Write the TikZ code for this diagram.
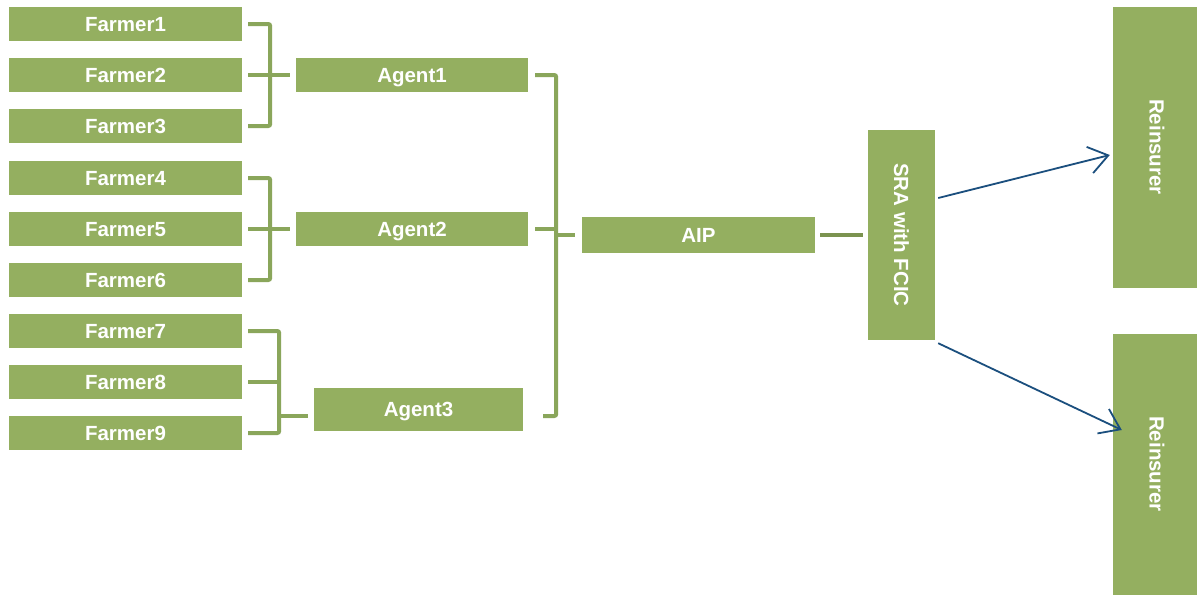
\documentclass[tikz,border=0pt]{standalone}
\usepackage{fontspec}
\setmainfont{Liberation Sans}
\usetikzlibrary{arrows.meta}
\definecolor{boxgreen}{HTML}{94AF60}
\definecolor{brgreen}{HTML}{8AA65B}
\definecolor{lnkgreen}{HTML}{7B9350}
\definecolor{arrblue}{HTML}{1B4F7E}
\tikzset{
  gbox/.style={fill=boxgreen, draw=none, inner sep=0pt, text=white,
    font=\fontsize{20.5}{24}\selectfont\bfseries, text height=14.8pt, text depth=0pt},
  farmer/.style={gbox, minimum width=233pt, minimum height=34pt},
  agent/.style={gbox, minimum width=232pt, minimum height=34pt},
  br/.style={draw=brgreen, line width=4pt, rounded corners=2pt},
  lnk/.style={draw=lnkgreen, line width=4.5pt},
  arr/.style={draw=arrblue, line width=1.8pt, -{Straight Barb[length=19pt,width=27pt,line width=1.8pt]}}
}
\begin{document}
\begin{tikzpicture}[x=1pt,y=-1pt]
\useasboundingbox (0,0) rectangle (1197,595);
\fill[white] (0,0) rectangle (1197,595);
% farmers
\node[farmer] (f1) at (125.5,24) {Farmer1};
\node[farmer] (f2) at (125.5,75) {Farmer2};
\node[farmer] (f3) at (125.5,126) {Farmer3};
\node[farmer] (f4) at (125.5,178) {Farmer4};
\node[farmer] (f5) at (125.5,229) {Farmer5};
\node[farmer] (f6) at (125.5,280) {Farmer6};
\node[farmer] (f7) at (125.5,331) {Farmer7};
\node[farmer] (f8) at (125.5,382) {Farmer8};
\node[farmer] (f9) at (125.5,433) {Farmer9};
% agents
\node[agent] (a1) at (412,75) {Agent1};
\node[agent] (a2) at (412,229) {Agent2};
\node[gbox, minimum width=209pt, minimum height=43pt] (a3) at (418.5,409.5) {Agent3};
% AIP, SRA, reinsurers
\node[gbox, minimum width=233pt, minimum height=36pt] (aip) at (698.5,235) {AIP};
\node[gbox, minimum width=67pt, minimum height=210pt] (sra) at (901.5,235) {};
\node[gbox, rotate=-90] at (sra.center) {SRA with FCIC};
\node[gbox, minimum width=84pt, minimum height=281pt] (r1) at (1155,147.5) {};
\node[gbox, rotate=-90] at (1157,147) {Reinsurer};
\node[gbox, minimum width=84pt, minimum height=261pt] (r2) at (1155,464.5) {};
\node[gbox, rotate=-90] at (1157,464) {Reinsurer};
% group 1 bracket
\draw[br] ([xshift=6pt]f1.east) -- ([xshift=28pt]f1.east) -- ([xshift=28pt]f3.east) -- ([xshift=6pt]f3.east);
\draw[br] ([xshift=6pt]f2.east) -- ([xshift=-6pt]a1.west);
% group 2 bracket
\draw[br] ([xshift=6pt]f4.east) -- ([xshift=28pt]f4.east) -- ([xshift=28pt]f6.east) -- ([xshift=6pt]f6.east);
\draw[br] ([xshift=6pt]f5.east) -- ([xshift=-6pt]a2.west);
% group 3 bracket
\draw[br] ([xshift=6pt]f7.east) -- ([xshift=37pt]f7.east) -- ([xshift=37pt]f9.east) -- ([xshift=6pt]f9.east);
\draw[br] ([xshift=6pt]f8.east) -- ([xshift=37pt]f8.east);
\draw[br] ([xshift=37pt,yshift=-6.5pt]f7.east |- a3.west) -- ([xshift=-6pt,yshift=-6.5pt]a3.west);
% agents to AIP bracket
\draw[br] ([xshift=7pt]a1.east) -- ([xshift=28pt]a1.east) -- ([xshift=28pt,yshift=-6.5pt]a1.east |- a3.east) -- ([xshift=20pt,yshift=-6.5pt]a3.east);
\draw[br] ([xshift=7pt]a2.east) -- ([xshift=28pt]a2.east);
\draw[br] ([xshift=28pt]a1.east |- aip.west) -- ([xshift=-7pt]aip.west);
% AIP to SRA
\draw[lnk] ([xshift=5pt]aip.east) -- ([xshift=-5pt]sra.west);
% arrows
\draw[arr] ([xshift=3pt,yshift=37pt]sra.east) -- ([xshift=-3pt,yshift=-7.5pt]r1.west);
\draw[arr] ([xshift=3pt,yshift=-3pt]sra.south east) -- ([xshift=9pt,yshift=34.5pt]r2.west);
\end{tikzpicture}
\end{document}
